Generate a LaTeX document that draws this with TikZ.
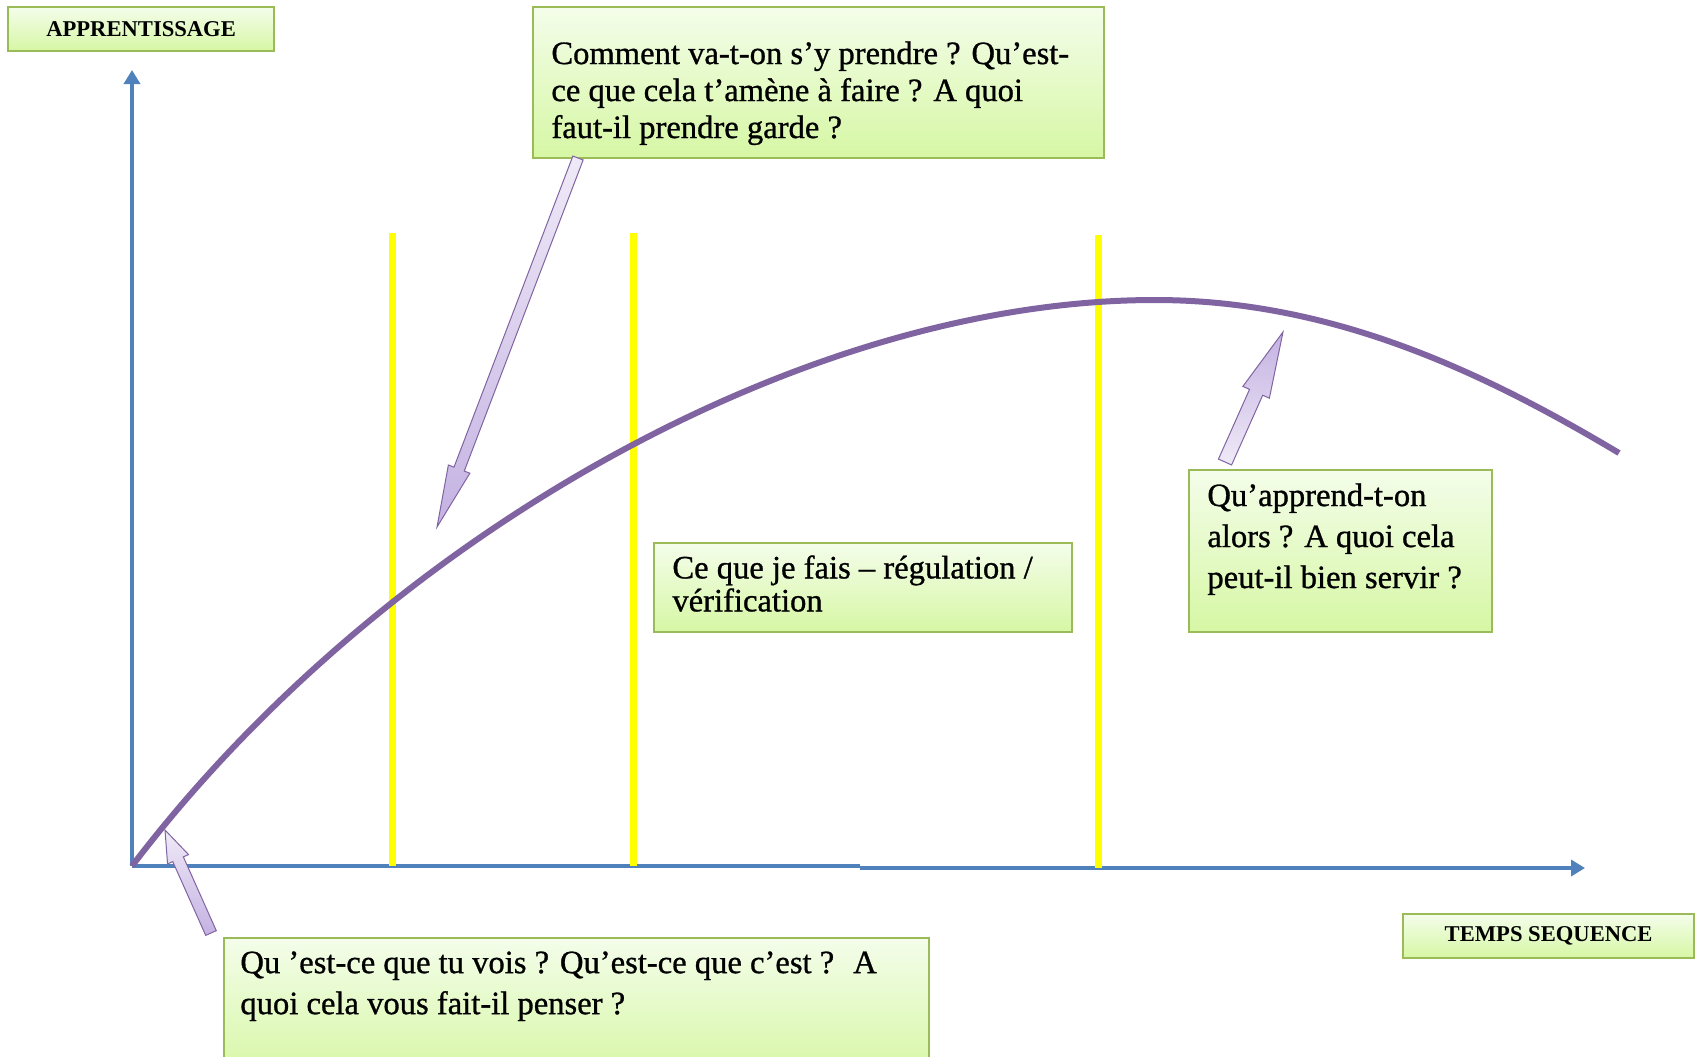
\documentclass[tikz,border=0pt]{standalone}
\usepackage{fontspec}
\setmainfont{Liberation Serif}
\newfontfamily\boxfont{Liberation Serif}[FakeBold=0.9]
\usetikzlibrary{calc,arrows.meta}
\definecolor{boxborder}{HTML}{9BBB59}
\definecolor{boxtop}{HTML}{F4FDEA}
\definecolor{boxbot}{HTML}{D6F7A4}
\definecolor{axisblue}{HTML}{4F81BD}
\definecolor{curvepurple}{HTML}{8064A2}
\definecolor{arrowlight}{HTML}{EFEAF7}
\definecolor{arrowdark}{HTML}{C4B2E2}
\definecolor{markyellow}{HTML}{FFFF00}
\newcommand{\blockarrow}[7]{%
  \coordinate (#1t) at #2;
  \coordinate (#1p) at #3;
  \coordinate (#1h) at ($(#1p)!#6!(#1t)$);
  \path[#7] ($(#1t)!#4!90:(#1p)$) -- ($(#1h)!#4!90:(#1p)$) -- ($(#1h)!#5!90:(#1p)$)
     -- (#1p) -- ($(#1h)!#5!-90:(#1p)$) -- ($(#1h)!#4!-90:(#1p)$) -- ($(#1t)!#4!-90:(#1p)$) -- cycle;
}
\begin{document}
\begin{tikzpicture}[x=0.5pt,y=-0.5pt,
  box/.style={draw=boxborder, line width=1.1pt, top color=boxtop, bottom color=boxbot,
    rectangle, anchor=north west, inner sep=0pt},
  boxtext/.style={anchor=north west, inner sep=0pt, align=left},
  axislabeltext/.style={font=\fontsize{11.3}{13}\selectfont\bfseries},
  axisline/.style={draw=axisblue, line width=1.75pt},
  yellowline/.style={draw=markyellow, line width=3.5pt},
  curveline/.style={draw=curvepurple, line width=3pt},
  arrowdown/.style={draw=curvepurple, line width=0.5pt, top color=arrowlight, bottom color=arrowdark},
  arrowup/.style={draw=curvepurple, line width=0.5pt, top color=arrowdark, bottom color=arrowlight},
  arrowuplight/.style={draw=curvepurple, line width=0.5pt, top color=arrowlight, bottom color=arrowdark},
]
\useasboundingbox (0,0) rectangle (1700,1056);

% axes
\coordinate (O) at (132,866);
\coordinate (ytip) at (132,70);
\coordinate (xstep1) at (860,866);
\coordinate (xstep2) at (860,868);
\coordinate (xtip) at (1585,868);
\draw[axisline, -{Triangle[length=7pt,width=8pt]}] (O) -- (ytip);
\draw[axisline] (O) -- (xstep1);
\draw[axisline, -{Triangle[length=7pt,width=8pt]}] (xstep2) -- (xtip);

% yellow lines
\coordinate (y1a) at (392,233); \coordinate (y1b) at (392,866);
\coordinate (y2a) at (633,233); \coordinate (y2b) at (633,866);
\coordinate (y3a) at (1098,235); \coordinate (y3b) at (1098,868);
\draw[yellowline] (y1a) -- (y1b);
\draw[yellowline] (y2a) -- (y2b);
\draw[yellowline] (y3a) -- (y3b);

% learning curve
\coordinate (peak) at (1155,300);
\coordinate (cend) at (1619,453);
\draw[curveline] (O) .. controls (380,540) and (800,300) .. (peak)
   .. controls (1330,300) and (1480,370) .. (cend);

% boxes
\node[box, axislabeltext, minimum width=133pt, minimum height=22pt] (bApp) at (7,6)
  {APPRENTISSAGE};
\node[box, axislabeltext, minimum width=145.5pt, minimum height=22pt] (bTemps) at (1402,913)
  {TEMPS SEQUENCE};

\node[box, minimum width=285.5pt, minimum height=75.5pt] (bTop) at (532,6) {};
\node[boxtext, font=\boxfont\fontsize{16.3}{18.5}\selectfont] (tTop) at (551,41)
  {Comment va-t-on s’y prendre ? Qu’est-\\ce que cela t’amène à faire ? A quoi\\faut-il prendre garde ?};

\node[box, minimum width=209pt, minimum height=44.5pt] (bMid) at (653,542) {};
\node[boxtext, font=\boxfont\fontsize{16.3}{16.5}\selectfont] (tMid) at (672,555)
  {Ce que je fais – régulation /\\vérification};

\node[box, minimum width=151.5pt, minimum height=81pt] (bRight) at (1188,469) {};
\node[boxtext, font=\boxfont\fontsize{16.3}{20.5}\selectfont] (tRight) at (1207,483)
  {Qu’apprend-t-on\\alors ? A quoi cela\\peut-il bien servir ?};

\node[box, minimum width=352.5pt, minimum height=70pt] (bBot) at (223,937) {};
\node[boxtext, font=\boxfont\fontsize{16.3}{20.5}\selectfont] (tBot) at (240,951)
  {Qu ’est-ce que tu vois ? Qu’est-ce que c’est ?~ A\\quoi cela vous fait-il penser ?};

% block arrows
\blockarrow{aA}{(578,158)}{(437,527)}{2.75pt}{5.75pt}{31pt}{arrowdown}
\blockarrow{aB}{(1225,462)}{(1283,332)}{3.6pt}{7.25pt}{33pt}{arrowup}
\blockarrow{aC}{(211,933)}{(165,830)}{2.9pt}{5.75pt}{16pt}{arrowuplight}
\end{tikzpicture}
\end{document}
